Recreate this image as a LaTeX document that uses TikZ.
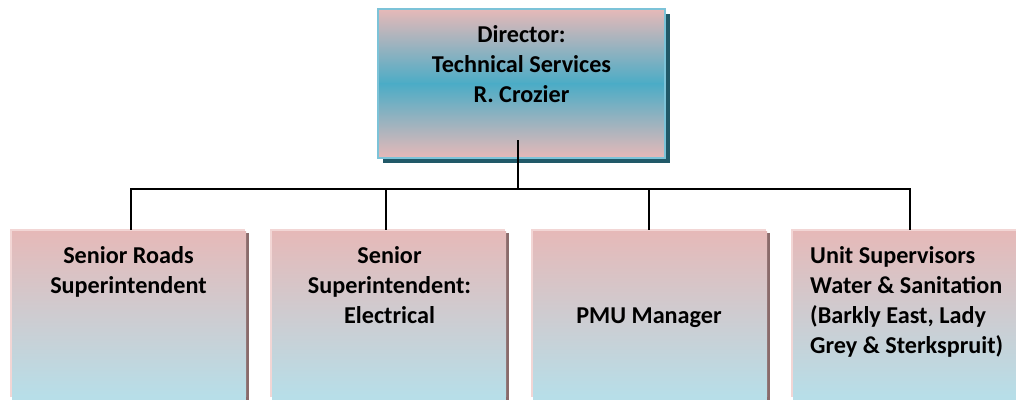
\documentclass[tikz,border=0pt]{standalone}
\usepackage{fontspec}
\setmainfont{Carlito}
\definecolor{rosepink}{HTML}{E6B9B8}
\definecolor{aquablue}{HTML}{4BACC6}
\definecolor{paleblue}{HTML}{B7DEE8}
\definecolor{edgeblue}{HTML}{7CC3D8}
\definecolor{deepteal}{HTML}{215968}
\definecolor{lightedge}{HTML}{F2D6D5}
\definecolor{darkedge}{HTML}{8A6B6B}
\tikzset{
  x=1pt, y=-1pt,
  label text/.style={font=\fontsize{24.2}{30}\selectfont\bfseries, inner sep=0pt, anchor=base},
  link/.style={line width=2pt, line cap=rect}
}
\begin{document}
\begin{tikzpicture}
\useasboundingbox (0,0) rectangle (1016,399);
\begin{scope}
\clip (0,0) rectangle (1016,399);

% director box: shadow, two-part gradient face, frame
\fill[deepteal] (383,14) rectangle (670,163);
\shade[top color=rosepink, bottom color=aquablue] (378,9) rectangle (665,84);
\shade[top color=aquablue, bottom color=rosepink] (378,83.5) rectangle (665,158);
\draw[edgeblue, line width=1.5pt] (378,9) rectangle (665,158);

% unit boxes: pale rim upper left, dark rim right, gradient face
\foreach \l/\r in {10/245, 270/505, 531/766, 791/1026}{
  \fill[lightedge] (\l,229) rectangle (\r,397);
  \fill[darkedge] (\l+4,233) rectangle (\r+4,410);
  \shade[top color=rosepink, bottom color=paleblue] (\l+2,231) rectangle (\r+1,396);
  \fill[paleblue] (\l+2,395.5) rectangle (\r+1,410);
}
\end{scope}

% connectors
\coordinate (top) at (518,141);
\coordinate (bus) at (518,189);
\coordinate (busL) at (131,189);
\coordinate (busR) at (910,189);
\coordinate (inA) at (131,229);
\coordinate (inB) at (386,229);
\coordinate (inC) at (649,229);
\coordinate (inD) at (910,229);
\coordinate (jB) at (386,189);
\coordinate (jC) at (649,189);
\draw[link] (top) -- (bus);
\draw[link] (inA) -- (busL) -- (busR) -- (inD);
\draw[link] (jB) -- (inB);
\draw[link] (jC) -- (inC);

% texts (base anchor sits on the last line)
\node[label text, align=center] (director) at (521.5,102) {Director:\\Technical Services\\R. Crozier};
\node[label text, align=center] (roads) at (128.5,293) {Senior Roads\\Superintendent};
\node[label text, align=center] (elec) at (389.5,323) {Senior\\Superintendent:\\Electrical};
\node[label text, align=center] (pmu) at (649,323) {PMU Manager};
\node[label text, align=left, anchor=base west] (water) at (810,353) {Unit Supervisors\\Water \& Sanitation\\(Barkly East, Lady\\Grey \& Sterkspruit)};
\end{tikzpicture}
\end{document}
